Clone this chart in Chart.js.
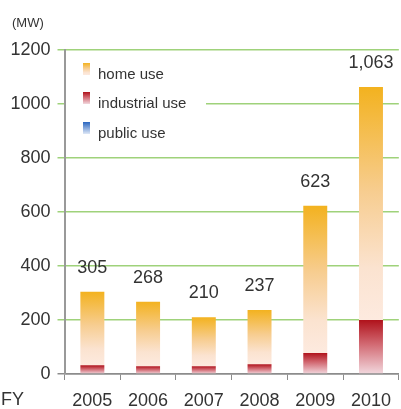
<!DOCTYPE html>
<html>
<head>
<meta charset="utf-8">
<script src="https://cdn.jsdelivr.net/npm/chart.js@4"></script>
<style>
  body { margin: 0; background: #fff; }
  canvas { display: block; }
</style>
</head>
<body>
<canvas id="pvChart" width="401" height="409"></canvas>
<script>
const years = ["2005", "2006", "2007", "2008", "2009", "2010"];
const homeUse = [273, 239, 181, 201, 545, 863];
const industrialUse = [32, 29, 29, 36, 78, 200];
const publicUse = [0, 0, 0, 0, 0, 0];
const totals = [305, 268, 210, 237, 623, 1063];
const yTicks = [0, 200, 400, 600, 800, 1000, 1200];

const FONT = "'Liberation Sans', Arial, sans-serif";
const TEXT = "#333";
const GREEN = "#9fd27a";

const homeStops = [[0, "#f3b21f"], [0.45, "#f7cd90"], [0.78, "#fbe3d0"], [1, "#fdeadf"]];
const indStops = [[0, "#b0121b"], [0.45, "#d26a73"], [1, "#f2d8de"]];
const pubStops = [[0, "#2a66c0"], [1, "#dfe8f6"]];

function barGradient(stops, fallback, lowerArr) {
    return function(ctx) {
        if (ctx.type !== "data") return fallback;
        const y = ctx.chart.scales.y;
        if (!y) return fallback;
        const i = ctx.dataIndex;
        let base = 0;
        lowerArr.forEach(a => base += a[i]);
        const top = base + ctx.raw;
        const y0 = y.getPixelForValue(top);
        const y1 = y.getPixelForValue(base);
        if (!isFinite(y0) || !isFinite(y1) || y0 === y1) return fallback;
        const g = ctx.chart.ctx.createLinearGradient(0, y0, 0, y1);
        stops.forEach(s => g.addColorStop(s[0], s[1]));
        return g;
    };
}

const legendItems = [
    { label: "home use", stops: homeStops, y: 75 },
    { label: "industrial use", stops: indStops, y: 104 },
    { label: "public use", stops: pubStops, y: 134 }
];

const overlay = {
    id: "overlay",
    afterDatasetsDraw(chart) {
        const c = chart.ctx;
        const y = chart.scales.y;
        const x = chart.scales.x;
        c.save();
        // legend box inside the plot
        c.fillStyle = "#fff";
        c.fillRect(66, 57, 140, 92);
        c.font = "15px " + FONT;
        c.textBaseline = "middle";
        c.textAlign = "left";
        legendItems.forEach(it => {
            const g = c.createLinearGradient(0, it.y - 12, 0, it.y);
            it.stops.forEach(s => g.addColorStop(s[0], s[1]));
            c.fillStyle = g;
            c.fillRect(83, it.y - 12, 7, 12);
            c.fillStyle = TEXT;
            c.fillText(it.label, 98, it.y);
        });
        // totals above bars
        c.font = "18px " + FONT;
        c.textAlign = "center";
        totals.forEach((t, i) => {
            c.fillStyle = TEXT;
            c.fillText(t.toLocaleString("en-US"), x.getPixelForValue(i), y.getPixelForValue(t) - 24);
        });
        // unit and FY
        c.font = "13px " + FONT;
        c.textAlign = "left";
        c.fillText("(MW)", 12, 23);
        c.font = "18px " + FONT;
        c.fillText("FY", 1, 400);
        c.restore();
    }
};

new Chart(document.getElementById("pvChart"), {
    type: "bar",
    data: {
        labels: years,
        datasets: [
            {
                label: "industrial use",
                data: industrialUse,
                backgroundColor: barGradient(indStops, "#b0121b", [])
            },
            {
                label: "public use",
                data: publicUse,
                backgroundColor: barGradient(pubStops, "#2a66c0", [industrialUse])
            },
            {
                label: "home use",
                data: homeUse,
                backgroundColor: barGradient(homeStops, "#f3b21f", [industrialUse, publicUse])
            }
        ]
    },
    options: {
        responsive: false,
        animation: false,
        layout: { padding: { top: 50, right: 0, left: 0, bottom: 0 } },
        datasets: {
            bar: { categoryPercentage: 1, barPercentage: 0.43, borderWidth: 0 }
        },
        plugins: {
            legend: { display: false },
            tooltip: { enabled: false }
        },
        scales: {
            x: {
                stacked: true,
                afterFit: s => { s.height = 35; },
                grid: { drawOnChartArea: false, tickLength: 6, color: "#8c8c8c", offset: true },
                border: { color: "#8c8c8c", width: 1.5 },
                ticks: { color: TEXT, font: { family: FONT, size: 18 }, padding: 10 }
            },
            y: {
                stacked: true,
                min: 0,
                max: 1200,
                afterFit: s => { s.width = 64.5; },
                afterBuildTicks: s => { s.ticks = yTicks.map(v => ({ value: v })); },
                grid: {
                    color: ctx => ctx.tick && ctx.tick.value === 0 ? "#8c8c8c" : GREEN,
                    lineWidth: 1.5,
                    tickLength: 7
                },
                border: { color: "#999", width: 2 },
                ticks: {
                    color: TEXT,
                    font: { family: FONT, size: 18 },
                    padding: 7,
                    callback: v => String(v)
                }
            }
        }
    },
    plugins: [overlay]
});
</script>
</body>
</html>
